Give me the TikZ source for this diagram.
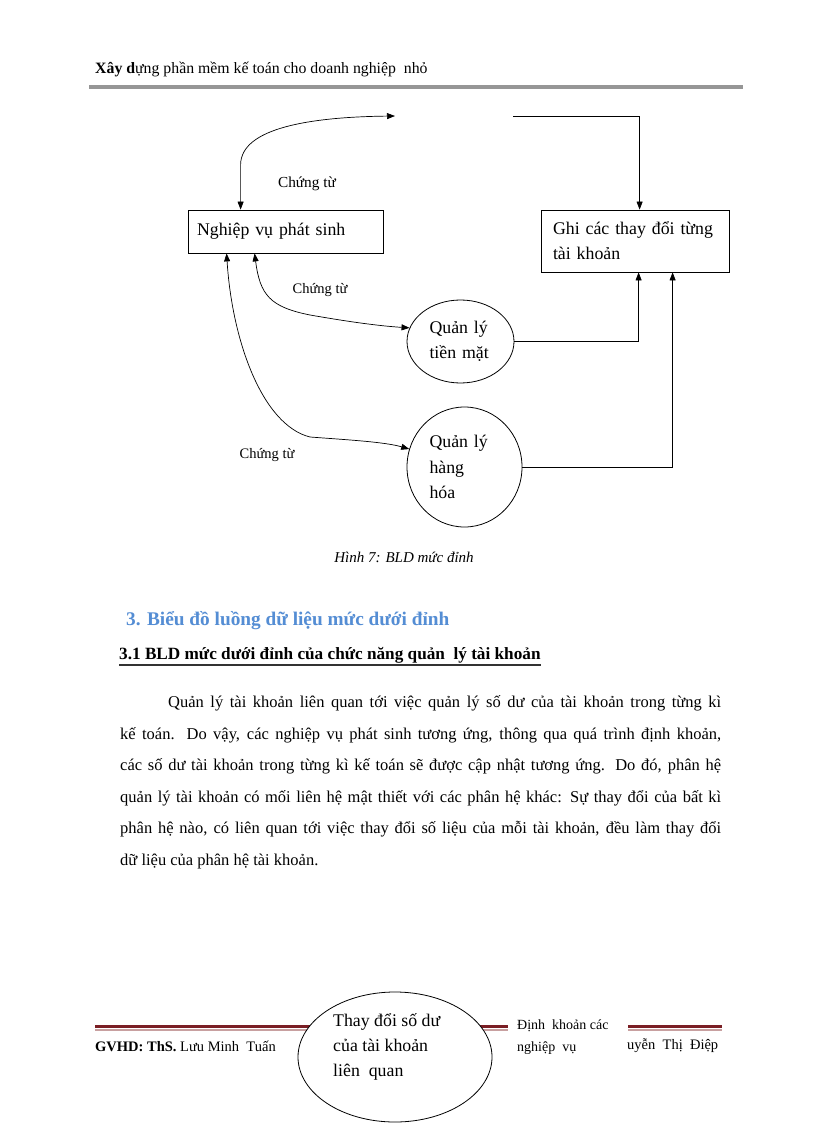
\documentclass[tikz,border=0pt]{standalone}
\usepackage{fontspec}
\setmainfont{Liberation Serif}
\usetikzlibrary{arrows.meta,shapes.geometric}
\definecolor{headblue}{RGB}{84,141,212}
\definecolor{rulegray}{RGB}{150,150,150}
\definecolor{darkmaroon}{RGB}{122,30,36}
\definecolor{pinkrule}{RGB}{200,160,160}
\tikzset{
  fs/.style={font=\fontsize{#1}{#1}\selectfont},
  procbox/.style={draw, line width=0.8pt, rectangle, inner ysep=0pt, align=left},
  procell/.style={draw, line width=0.8pt, ellipse, inner sep=0pt, align=left, fill=white},
  flowline/.style={line width=0.7pt},
  tip/.style={-{Triangle[length=8pt,width=6pt]}},
  bitip/.style={{Triangle[length=8pt,width=6pt]}-{Triangle[length=8pt,width=6pt]}},
  lbl/.style={fs=14.5, inner sep=0pt},
  bodyline/.style={anchor=base west, inner sep=0pt, fs=16.5},
}
\begin{document}
\begin{tikzpicture}[x=1pt,y=-1pt]
\fill[white] (0,0) rectangle (816,1123);
\path[use as bounding box] (0,0) rectangle (816,1123);

% header
\node[anchor=base west, inner sep=0pt, fs=15.8] (hdr) at (95,74) {\textbf{Xây d}ựng phần mềm kế toán cho doanh nghiệp\ \ nhỏ};
\draw[rulegray, line width=3.5pt] (89,87) -- (743,87);

% diagram nodes
\node[procbox, minimum width=195pt, minimum height=43pt, text width=177pt, inner xsep=9pt, fs=17.8] (nps) at (285.5,231.5) {Nghiệp vụ phát sinh};
\node[procbox, minimum width=188pt, minimum height=62pt, text width=164pt, inner xsep=12pt, font=\fontsize{17.8}{25}\selectfont] (ghi) at (635,241) {Ghi các thay đổi từng\\tài khoản};
\node[procell, minimum width=107pt, minimum height=83pt, text width=62pt, font=\fontsize{17.8}{25}\selectfont] (tm) at (460.5,341.5) {Quản lý\\tiền mặt};
\node[procell, minimum width=115pt, minimum height=120pt, text width=70pt, font=\fontsize{17.8}{25.5}\selectfont] (hh) at (464.5,467) {Quản lý\\hàng\\hóa};

\coordinate (k1) at (395,116);
\coordinate (k2) at (513,116);

% connectors
\draw[flowline, bitip] ([xshift=53pt]nps.north west) -- ++(0,-45) .. controls (241,128) and (310,117) .. (k1);
\draw[flowline, tip] (k2) -| ([xshift=99pt]ghi.north west);
\draw[flowline, tip] (tm.east) -| ([xshift=98pt]ghi.south west);
\draw[flowline, tip] (hh.east) -| ([xshift=132pt]ghi.south west);
\draw[flowline, bitip] ([xshift=67pt]nps.south west) .. controls (260,295) and (270,307) .. (310,315) .. controls (350,322) and (380,326) .. (tm.165);
\draw[flowline, bitip] ([xshift=39pt]nps.south west) .. controls (232,340) and (262,425) .. (310,437) .. controls (350,440) and (385,442) .. (hh.162);

% labels
\node[lbl, fs=15.3] (l1) at (307,184) {Chứng từ};
\node[lbl] (l2) at (320,290) {Chứng từ};
\node[lbl] (l3) at (267,455) {Chứng từ};

% caption
\node[inner sep=0pt, font=\fontsize{15}{15}\selectfont\itshape] (cap) at (404,557) {Hình 7: BLD mức đỉnh};

% headings
\node[anchor=west, inner sep=0pt, text=headblue, font=\fontsize{19.3}{20}\selectfont\bfseries] (h3) at (126,621) {3. Biểu đồ luồng dữ liệu mức dưới đỉnh};
\node[anchor=west, inner sep=0pt, font=\fontsize{17.2}{18}\selectfont\bfseries] (h31) at (119,655) {3.1 BLD mức dưới đỉnh của chức năng quản\ \ lý tài khoản};
\draw[line width=2pt, black!80] (h31.south west |- 0,665) -- (h31.south east |- 0,665);

% body
\node[bodyline] (b1) at (168,707) {\makebox[553pt][s]{Quản lý tài khoản liên quan tới việc quản lý số dư của tài khoản trong từng kì}};
\node[bodyline] (b2) at (120,739) {\makebox[601pt][s]{kế toán. Do vậy, các nghiệp vụ phát sinh tương ứng, thông qua quá trình định khoản,}};
\node[bodyline] (b3) at (120,770) {\makebox[601pt][s]{các số dư tài khoản trong từng kì kế toán sẽ được cập nhật tương ứng. Do đó, phân hệ}};
\node[bodyline] (b4) at (120,802) {\makebox[601pt][s]{quản lý tài khoản có mối liên hệ mật thiết với các phân hệ khác: Sự thay đổi của bất kì}};
\node[bodyline] (b5) at (120,833) {\makebox[601pt][s]{phân hệ nào, có liên quan tới việc thay đổi số liệu của mỗi tài khoản, đều làm thay đổi}};
\node[bodyline] (b6) at (120,865) {dữ liệu của phân hệ tài khoản.};

% footer rules
\draw[darkmaroon, line width=3pt] (95,1026) -- (330,1026);
\draw[pinkrule, line width=1.5pt] (95,1030) -- (330,1030);
\draw[darkmaroon, line width=3pt] (470,1026) -- (508,1026);
\draw[pinkrule, line width=1.5pt] (470,1030) -- (508,1030);
\draw[darkmaroon, line width=3pt] (628,1026) -- (722,1026);
\draw[pinkrule, line width=1.5pt] (628,1030) -- (722,1030);

% bottom ellipse
\node[procell, minimum width=194pt, minimum height=130pt] (tds) at (395,1057) {};
\node[anchor=west, inner sep=0pt, align=left, font=\fontsize{17.8}{25}\selectfont] (tdst) at (333,1047) {Thay đổi số dư\\của tài khoản\\liên\ \ quan};

% footer texts
\node[anchor=west, inner sep=0pt, fs=14.5] (gv) at (95,1046) {\textbf{GVHD: ThS.} Lưu Minh\ \ Tuấn};
\node[anchor=west, inner sep=0pt, align=left, font=\fontsize{14}{22}\selectfont] (dk) at (517,1037) {Định\ \ khoản các\\nghiệp\ \ vụ};
\node[anchor=west, inner sep=0pt, fs=14.5] (ten) at (627,1046) {uyễn\ \ Thị\ \ Điệp};
\end{tikzpicture}
\end{document}
